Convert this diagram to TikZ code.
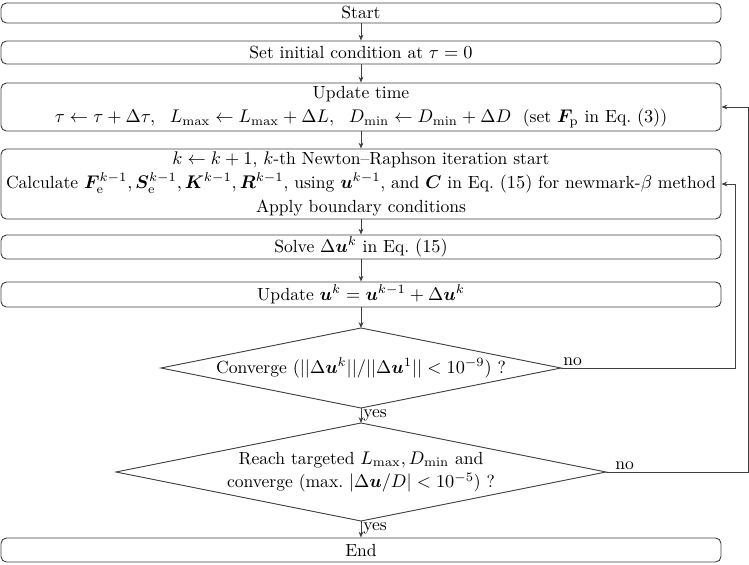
\documentclass[tikz,border=0pt]{standalone}
\usepackage{amsmath,bm}
\usetikzlibrary{arrows.meta}
\begin{document}
\begin{tikzpicture}[x=0.5467pt,y=-0.5467pt,
  every node/.style={font=\fontsize{9.6}{12}\selectfont},
  ln/.style={draw=black!75,line width=0.5pt},
  arr/.style={ln,-{Stealth[length=3.2pt,width=2.6pt]}},
  box/.style={ln,rounded corners=3pt,minimum width={720*0.5467pt},align=center,inner sep=0pt},
  txt/.style={align=center,inner sep=0pt},
  lbl/.style={inner sep=1pt}]
\useasboundingbox (0,0) rectangle (749,564);
\node[box,minimum height={20*0.5467pt}] (start) at (361,13) {Start};
\node[box,minimum height={23*0.5467pt}] (init) at (361,52.5) {Set initial condition at $\tau=0$};
\node[box,minimum height={48*0.5467pt}] (upd) at (361,107) {Update time\\[1pt]
 $\tau\leftarrow\tau+\Delta\tau,\ \ L_{\max}\leftarrow L_{\max}+\Delta L,\ \ D_{\min}\leftarrow D_{\min}+\Delta D$\ \ (set $\bm{F}_{\mathrm{p}}$ in Eq.\ $(3)$)};
\node[box,minimum height={70*0.5467pt}] (nr) at (361,184) {$k\leftarrow k+1$, $k$-th Newton--Raphson iteration start\\[1pt]
 Calculate $\bm{F}_{\mathrm{e}}^{k-1},\bm{S}_{\mathrm{e}}^{k-1},\bm{K}^{k-1},\bm{R}^{k-1}$, using $\bm{u}^{k-1}$, and $\bm{C}$ in Eq.\ $(15)$ for newmark-$\beta$ method\\[1pt]
 Apply boundary conditions};
\node[box,minimum height={24*0.5467pt}] (solve) at (361,247) {Solve $\Delta\bm{u}^k$ in Eq.\ $(15)$};
\node[box,minimum height={25*0.5467pt}] (updu) at (361,294.5) {Update $\bm{u}^k=\bm{u}^{k-1}+\Delta\bm{u}^k$};
% decision 1
\coordinate (c1n) at (361,328);
\coordinate (c1s) at (361,408);
\coordinate (c1w) at (161,368);
\coordinate (c1e) at (561,368);
\draw[ln] (c1n) -- (c1e) -- (c1s) -- (c1w) -- cycle;
\node[txt] (c1) at (361,368) {Converge $(||\Delta\bm{u}^k||/||\Delta\bm{u}^1||<10^{-9})$ ?};
% decision 2
\coordinate (c2n) at (361,423);
\coordinate (c2s) at (361,521);
\coordinate (c2w) at (116,472);
\coordinate (c2e) at (606,472);
\draw[ln] (c2n) -- (c2e) -- (c2s) -- (c2w) -- cycle;
\node[txt] (c2) at (361,472) {Reach targeted $L_{\max},D_{\min}$ and\\[1pt] converge (max.\ $|\Delta\bm{u}/D|<10^{-5}$) ?};
\node[box,minimum height={24*0.5467pt}] (end) at (361,550) {End};
\draw[arr] (start) -- (init);
\draw[arr] (init) -- (upd);
\draw[arr] (upd) -- (nr);
\draw[arr] (nr) -- (solve);
\draw[arr] (solve) -- (updu);
\draw[arr] (updu) -- (c1n);
\draw[arr] (c1s) -- node[lbl,anchor=west,pos=0.5] {yes} (c2n);
\draw[arr] (c2s) -- node[lbl,anchor=west,pos=0.45] {yes} (end);
\coordinate (r1) at (735,368);
\coordinate (r2) at (748,472);
\draw[arr] (c1e) -- node[lbl,anchor=south west,pos=0] {no} (r1) |- (nr.east);
\draw[arr] (c2e) -- node[lbl,anchor=south west,pos=0.05] {no} (r2) |- (upd.east);
\end{tikzpicture}
\end{document}
